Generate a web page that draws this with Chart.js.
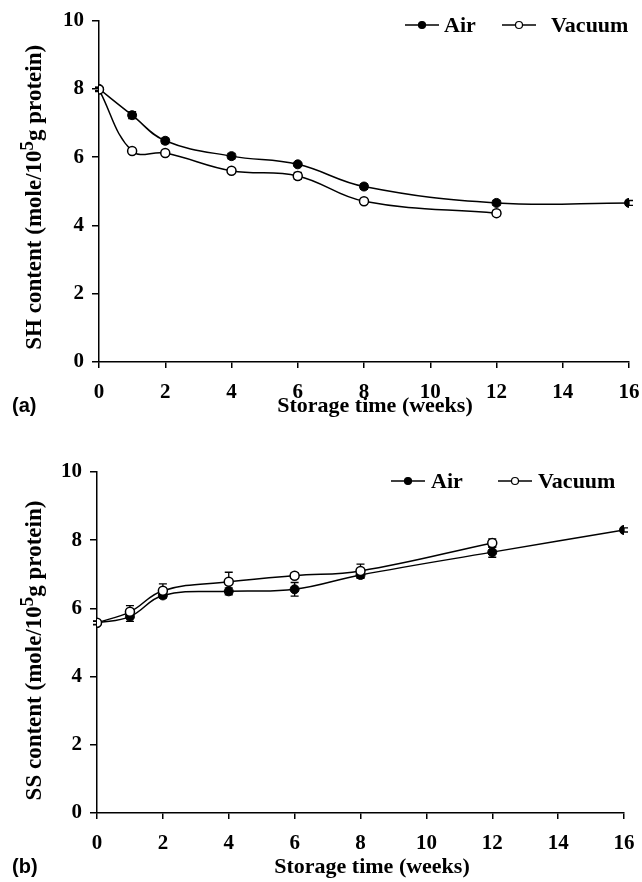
<!DOCTYPE html>
<html>
<head>
<meta charset="utf-8">
<script src="https://cdn.jsdelivr.net/npm/chart.js@4.4.0/dist/chart.umd.min.js"></script>
<style>
  html, body { margin: 0; padding: 0; background: #fff; }
  #wrap { position: relative; width: 642px; height: 882px; }
  canvas { position: absolute; left: 0; }
  #chartA { top: 0; }
  #chartB { top: 430px; }
</style>
</head>
<body>
<div id="wrap">
  <canvas id="chartA" width="642" height="430"></canvas>
  <canvas id="chartB" width="642" height="452"></canvas>
</div>
<script>
(function () {
  'use strict';

  // storage time (weeks)
  var weeksAir = [0, 1, 2, 4, 6, 8, 12, 16];
  var weeksVac = [0, 1, 2, 4, 6, 8, 12];
  var xTicks = [0, 2, 4, 6, 8, 10, 12, 14, 16];
  var yTicks = [0, 2, 4, 6, 8, 10];

  // (a) SH content
  var shAir = [8.0, 7.23, 6.48, 6.03, 5.79, 5.14, 4.66, 4.66];
  var shAirErr = [0.05, 0.1, 0.08, 0.08, 0.05, 0.08, 0.07, 0.07];
  var shVac = [7.98, 6.18, 6.12, 5.6, 5.45, 4.71, 4.36];
  var shVacErr = [0.06, 0.05, 0.05, 0.05, 0.1, 0.07, 0.08];

  // (b) SS content
  var ssAir = [5.57, 5.76, 6.38, 6.5, 6.56, 6.98, 7.65, 8.3];
  var ssAirErr = [0.05, 0.14, 0.08, 0.1, 0.2, 0.1, 0.15, 0.06];
  var ssVac = [5.58, 5.9, 6.52, 6.78, 6.96, 7.1, 7.92];
  var ssVacErr = [0.05, 0.18, 0.2, 0.28, 0.08, 0.2, 0.12];

  var seriesNames = ['Air', 'Vacuum'];
  var xTitle = 'Storage time (weeks)';

  var SERIF = '"Liberation Serif", "Times New Roman", serif';
  var SANS = '"Liberation Sans", Arial, sans-serif';

  function points(xs, ys) {
    return xs.map(function (x, i) { return { x: x, y: ys[i] }; });
  }

  // error bars, drawn under the lines and markers
  var errorBars = {
    id: 'errorBars',
    beforeDatasetsDraw: function (chart) {
      var ctx = chart.ctx;
      var xs = chart.scales.x, ys = chart.scales.y;
      ctx.save();
      ctx.strokeStyle = '#000';
      ctx.lineWidth = 1.3;
      chart.data.datasets.forEach(function (ds) {
        ds.data.forEach(function (p, i) {
          var e = ds.errors[i];
          var px = xs.getPixelForValue(p.x);
          var top = ys.getPixelForValue(p.y + e);
          var bot = ys.getPixelForValue(p.y - e);
          ctx.beginPath();
          ctx.moveTo(px, top); ctx.lineTo(px, bot);
          ctx.moveTo(px - 4, top); ctx.lineTo(px + 4, top);
          ctx.moveTo(px - 4, bot); ctx.lineTo(px + 4, bot);
          ctx.stroke();
        });
      });
      ctx.restore();
    }
  };

  // titles, panel letter and legend
  var decorations = {
    id: 'decorations',
    afterDraw: function (chart, args, o) {
      var ctx = chart.ctx;
      var area = chart.chartArea;
      ctx.save();
      ctx.fillStyle = '#000';
      ctx.textBaseline = 'middle';

      // y title with superscript
      var big = 'bold 23px ' + SERIF;
      var sup = 'bold 19px ' + SERIF;
      var p1 = o.yPrefix + ' content (mole/10', p2 = '5', p3 = 'g protein)';
      ctx.font = big;
      var w1 = ctx.measureText(p1).width, w3 = ctx.measureText(p3).width;
      ctx.font = sup;
      var w2 = ctx.measureText(p2).width;
      var total = w1 + w2 + w3;
      ctx.translate(o.yTitleX, (area.top + area.bottom) / 2 + o.yTitleShift);
      ctx.rotate(-Math.PI / 2);
      ctx.textAlign = 'left';
      ctx.font = big;
      ctx.fillText(p1, -total / 2, 0);
      ctx.font = sup;
      ctx.fillText(p2, -total / 2 + w1, -7);
      ctx.font = big;
      ctx.fillText(p3, -total / 2 + w1 + w2, 0);
      ctx.setTransform(1, 0, 0, 1, 0, 0);

      // x title
      ctx.textAlign = 'center';
      ctx.font = 'bold 22px ' + SERIF;
      ctx.fillText(xTitle, o.xTitleX, o.xTitleY);

      // panel letter
      ctx.textAlign = 'left';
      ctx.font = 'bold 20px ' + SANS;
      ctx.fillText(o.panel, 12, o.xTitleY);

      // legend
      ctx.lineWidth = 1.5;
      ctx.strokeStyle = '#000';
      o.legend.forEach(function (item, i) {
        var ds = chart.data.datasets.filter(function (d) { return d.label === seriesNames[i]; })[0];
        ctx.beginPath();
        ctx.moveTo(item.x, o.legendY);
        ctx.lineTo(item.x + 34, o.legendY);
        ctx.stroke();
        ctx.beginPath();
        ctx.arc(item.x + 17, o.legendY, 3.5, 0, Math.PI * 2);
        ctx.fillStyle = ds.pointBackgroundColor;
        ctx.fill();
        ctx.lineWidth = 1.2;
        ctx.stroke();
        ctx.lineWidth = 1.5;
        ctx.fillStyle = '#000';
        ctx.font = 'bold 22px ' + SERIF;
        ctx.fillText(seriesNames[i], item.tx, o.legendY + 1);
      });
      ctx.restore();
    }
  };

  function makeChart(id, air, airErr, vac, vacErr, layout, deco) {
    var tickFont = { family: SERIF, size: 21, weight: 'bold' };
    var gridOpts = { display: true, drawOnChartArea: false, drawTicks: true, color: '#000', lineWidth: 1.5 };
    return new Chart(document.getElementById(id), {
      type: 'line',
      plugins: [errorBars, decorations],
      data: {
        datasets: [{
          label: seriesNames[0],
          data: points(weeksAir, air),
          errors: airErr,
          order: 1,
          borderColor: '#000',
          borderWidth: 1.5,
          tension: 0.4,
          pointRadius: 4.5,
          pointBackgroundColor: '#000',
          pointBorderColor: '#000',
          pointBorderWidth: 1
        }, {
          label: seriesNames[1],
          data: points(weeksVac, vac),
          errors: vacErr,
          order: 0,
          borderColor: '#000',
          borderWidth: 1.5,
          tension: 0.4,
          pointRadius: 4.5,
          pointBackgroundColor: '#fff',
          pointBorderColor: '#000',
          pointBorderWidth: 1.5
        }]
      },
      options: {
        responsive: false,
        animation: false,
        devicePixelRatio: 1,
        layout: { padding: layout },
        plugins: { legend: { display: false }, tooltip: { enabled: false }, decorations: deco },
        scales: {
          x: {
            type: 'linear', min: 0, max: 16,
            afterBuildTicks: function (s) { s.ticks = xTicks.map(function (v) { return { value: v }; }); },
            afterFit: function (s) { s.height = 40; s.paddingLeft = 0; s.paddingRight = 0; },
            ticks: { color: '#000', font: tickFont, padding: 12, maxRotation: 0, autoSkip: false },
            grid: Object.assign({ tickLength: 6 }, gridOpts),
            border: { display: true, color: '#000', width: 1.5 }
          },
          y: {
            min: 0, max: 10,
            afterBuildTicks: function (s) { s.ticks = yTicks.map(function (v) { return { value: v }; }); },
            afterFit: function (s) { s.width = layout.yWidth; },
            ticks: { color: '#000', font: tickFont, padding: 8 },
            grid: Object.assign({ tickLength: 7 }, gridOpts),
            border: { display: true, color: '#000', width: 1.5 }
          }
        }
      }
    });
  }

  makeChart('chartA', shAir, shAirErr, shVac, shVacErr,
    { top: 19, right: 13, bottom: 28, left: 0, yWidth: 99 },
    { yPrefix: 'SH', yTitleX: 35, yTitleShift: 6, xTitleX: 375, xTitleY: 406, panel: '(a)',
      legendY: 25, legend: [{ x: 405, tx: 444 }, { x: 502, tx: 551 }] });

  makeChart('chartB', ssAir, ssAirErr, ssVac, ssVacErr,
    { top: 42, right: 18, bottom: 29, left: 0, yWidth: 97 },
    { yPrefix: 'SS', yTitleX: 35, yTitleShift: 8, xTitleX: 372, xTitleY: 437, panel: '(b)',
      legendY: 51, legend: [{ x: 391, tx: 431 }, { x: 498, tx: 538 }] });
})();
</script>
</body>
</html>
